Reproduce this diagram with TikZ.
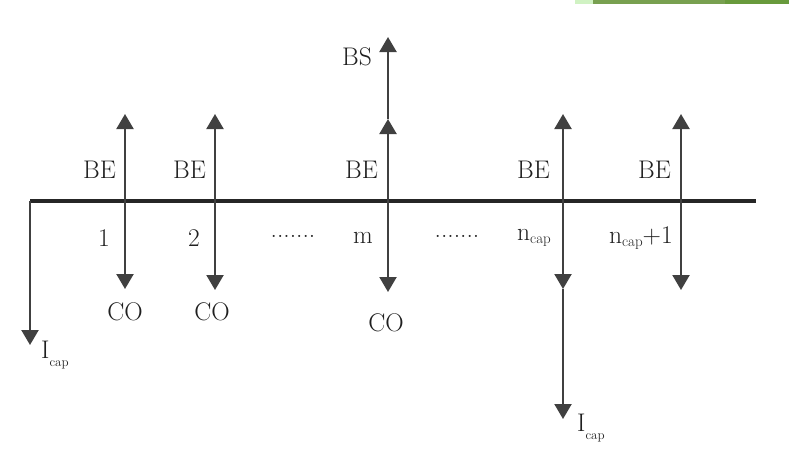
\documentclass[tikz,border=0pt]{standalone}
\usetikzlibrary{arrows.meta}
\begin{document}
\begin{tikzpicture}[x=1pt,y=-1pt,
  flow/.style={draw=black!75,line width=2.2pt,-{Triangle[width=17pt,length=15pt]}},
  axis/.style={draw=black!85,line width=3.2pt},
  lbl/.style={inner sep=0pt,text=black!88,font=\fontsize{25.5}{28}\selectfont}]
\useasboundingbox (0,0) rectangle (789,472);
% green bar at top
\fill[green!15!white!90!olive] (575,0) rectangle (593,4);
\fill[fill={rgb,255:red,120;green,160;blue,80}] (593,0) rectangle (725,4);
\fill[fill={rgb,255:red,104;green,154;blue,60}] (725,0) rectangle (789,4);
% axis
\coordinate (L) at (30,201);
\coordinate (R) at (756,201);
\draw[axis] (L) -- (R);
% left I_cap
\coordinate (i0b) at (30,345);
\draw[flow] (L) -- (i0b);
% period 1
\coordinate (a1t) at (125,114); \coordinate (a1b) at (125,289);
\draw[flow] (125,201) -- (a1t);
\draw[flow] (125,201) -- (a1b);
% period 2
\coordinate (a2t) at (215,114); \coordinate (a2b) at (215,290);
\draw[flow] (215,201) -- (a2t);
\draw[flow] (215,201) -- (a2b);
% period m
\coordinate (amt) at (388,119); \coordinate (ams) at (388,37); \coordinate (amb) at (388,292);
\draw[flow] (388,201) -- (amt);
\draw[flow] (amt) -- (ams);
\draw[flow] (388,201) -- (amb);
% period n_cap
\coordinate (ant) at (563,114); \coordinate (anb) at (563,289); \coordinate (ani) at (563,419);
\draw[flow] (563,201) -- (ant);
\draw[flow] (563,201) -- (anb);
\draw[flow] (anb) -- (ani);
% period n_cap+1
\coordinate (aqt) at (681,114); \coordinate (aqb) at (681,290);
\draw[flow] (681,201) -- (aqt);
\draw[flow] (681,201) -- (aqb);
% labels
\node[lbl,anchor=east] (be1) at (116,170) {BE};
\node[lbl,anchor=east] (be2) at (206,170) {BE};
\node[lbl,anchor=east] (bem) at (378,170) {BE};
\node[lbl,anchor=east] (ben) at (550,170) {BE};
\node[lbl,anchor=east] (beq) at (671,170) {BE};
\node[lbl,anchor=east] (bs) at (372,57) {BS};
\node[lbl] (n1) at (104,238) {1};
\node[lbl] (n2) at (194,238) {2};
\node[lbl] (d1) at (293,236) {.......};
\node[lbl] (nm) at (363,238) {m};
\node[lbl] (d2) at (457,236) {.......};
\node[lbl,anchor=east] (nn) at (551,238) {n\raisebox{-0.3ex}{\fontsize{15}{15}\selectfont cap}};
\node[lbl,anchor=east] (nq) at (673,238) {n\raisebox{-0.3ex}{\fontsize{15}{15}\selectfont cap}+1};
\node[lbl] (co1) at (125,312) {CO};
\node[lbl] (co2) at (212,312) {CO};
\node[lbl] (com) at (386,323) {CO};
\node[lbl,anchor=west] (ic1) at (41,355) {I\raisebox{-0.7ex}{\fontsize{13}{13}\selectfont cap}};
\node[lbl,anchor=west] (ic2) at (577,428) {I\raisebox{-0.7ex}{\fontsize{13}{13}\selectfont cap}};
\end{tikzpicture}
\end{document}
